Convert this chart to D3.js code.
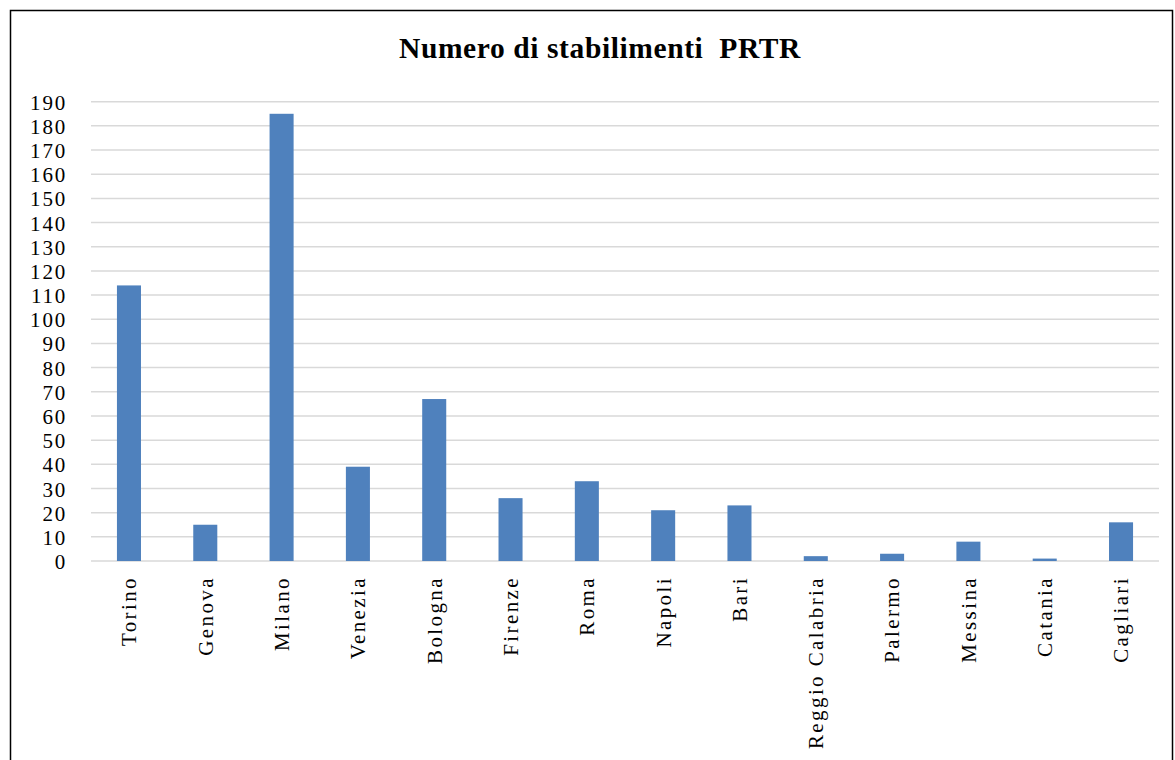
<!DOCTYPE html>
<html>
<head>
<meta charset="utf-8">
<script src="https://cdn.jsdelivr.net/npm/d3@7"></script>
<style>
  body { margin: 0; background: #fff; overflow: hidden; }
  svg text { font-family: "Liberation Serif", "Times New Roman", serif; }
</style>
</head>
<body>
<div id="viz"></div>
<script>
var cities = ["Torino", "Genova", "Milano", "Venezia", "Bologna", "Firenze", "Roma",
              "Napoli", "Bari", "Reggio Calabria", "Palermo", "Messina", "Catania", "Cagliari"];
var plants = [114, 15, 185, 39, 67, 26, 33, 21, 23, 2, 3, 8, 1, 16];
var yTicks = d3.range(0, 191, 10);

var W = 1175, H = 760;
var pLeft = 91, pRight = 1159, pTop = 101.7, pBottom = 561;

var svg = d3.select("#viz")
    .append("svg")
    .attr("width", W)
    .attr("height", H);

// frame
svg.append("rect")
    .attr("x", 10.5)
    .attr("y", 10.5)
    .attr("width", 1162)
    .attr("height", 760)
    .style("fill", "white")
    .style("stroke", "black")
    .style("stroke-width", 1.5);

var x = d3.scaleBand()
    .domain(cities)
    .range([pLeft, pRight])
    .paddingInner(0.685)
    .paddingOuter(0.34);

var y = d3.scaleLinear()
    .domain([0, 190])
    .range([pBottom, pTop]);

// gridlines
svg.selectAll("line.grid")
    .data(yTicks)
    .enter()
    .append("line")
    .attr("class", "grid")
    .attr("x1", pLeft)
    .attr("x2", pRight)
    .attr("y1", function(d){ return y(d); })
    .attr("y2", function(d){ return y(d); })
    .style("stroke", "#d9d9d9")
    .style("stroke-width", 1.5);

// y axis labels
var yAxis = d3.axisLeft(y).tickValues(yTicks).tickSize(0).tickPadding(0);
var gy = svg.append("g")
    .attr("transform", "translate(67,0)")
    .attr("font-family", null)
    .call(yAxis);
gy.select(".domain").remove();
gy.selectAll("text")
    .style("font-family", "'Liberation Serif', serif")
    .style("font-size", "21px")
    .style("letter-spacing", "1.8px")
    .style("fill", "#000")
    .attr("dy", "0.36em");

// bars
svg.selectAll("rect.bar")
    .data(plants)
    .enter()
    .append("rect")
    .attr("class", "bar")
    .attr("x", function(d, i){ return x(cities[i]); })
    .attr("width", x.bandwidth())
    .attr("y", function(d){ return y(d); })
    .attr("height", function(d){ return y(0) - y(d); })
    .style("fill", "#4f81bd");

// x labels
var xAxis = d3.axisBottom(x).tickSize(0).tickPadding(0);
var gx = svg.append("g")
    .attr("transform", "translate(0," + pBottom + ")")
    .call(xAxis);
gx.select(".domain").remove();
gx.selectAll("text")
    .attr("transform", "rotate(-90)")
    .attr("x", -15)
    .attr("y", 0)
    .attr("dy", "0.35em")
    .style("font-family", "'Liberation Serif', serif")
    .style("text-anchor", "end")
    .style("font-size", "21px")
    .style("letter-spacing", "2.4px")
    .style("fill", "#000");

// title
svg.append("text")
    .attr("x", 600)
    .attr("y", 58)
    .attr("text-anchor", "middle")
    .attr("xml:space", "preserve")
    .style("white-space", "pre")
    .style("font-size", "29.5px")
    .style("font-weight", "bold")
    .style("letter-spacing", "0.6px")
    .text("Numero di stabilimenti  PRTR");
</script>
</body>
</html>
